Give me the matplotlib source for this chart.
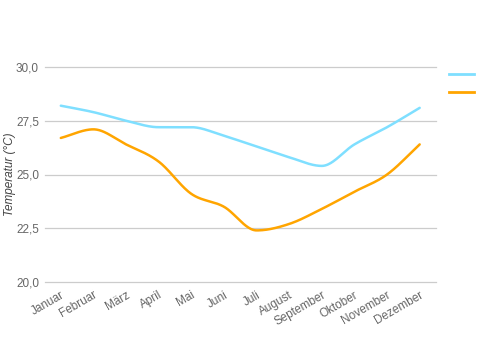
import numpy as np
import matplotlib
matplotlib.use("Agg")
import matplotlib.pyplot as plt
from matplotlib.lines import Line2D

plt.rcParams['font.family'] = ['Liberation Sans', 'DejaVu Sans']

months = ["Januar", "Februar", "März", "April", "Mai", "Juni", "Juli",
          "August", "September", "Oktober", "November", "Dezember"]
series_a = [28.2, 27.9, 27.5, 27.2, 27.2, 26.8, 26.3, 25.8, 25.4, 26.4, 27.2, 28.1]
series_b = [26.7, 27.1, 26.4, 25.6, 24.1, 23.5, 22.4, 22.7, 23.4, 24.2, 25.0, 26.4]
yticks = [20.0, 22.5, 25.0, 27.5, 30.0]
ytick_labels = ["20,0", "22,5", "25,0", "27,5", "30,0"]
color_a = "#7fdfff"
color_b = "#ffa500"


def monotone(x, y, n=40):
    x = np.asarray(x, float); y = np.asarray(y, float)
    h = np.diff(x); d = np.diff(y) / h
    m = np.zeros_like(y)
    m[0] = d[0]; m[-1] = d[-1]
    for i in range(1, len(y) - 1):
        if d[i - 1] * d[i] <= 0:
            m[i] = 0
        else:
            m[i] = (d[i - 1] + d[i]) / 2
    for i in range(len(d)):
        if d[i] == 0:
            m[i] = m[i + 1] = 0
        else:
            a = m[i] / d[i]; b = m[i + 1] / d[i]
            s = a * a + b * b
            if s > 9:
                t = 3 / np.sqrt(s)
                m[i] = t * a * d[i]; m[i + 1] = t * b * d[i]
    xs, ys = [], []
    for i in range(len(d)):
        t = np.linspace(0, 1, n, endpoint=(i == len(d) - 1))
        h00 = 2 * t**3 - 3 * t**2 + 1
        h10 = t**3 - 2 * t**2 + t
        h01 = -2 * t**3 + 3 * t**2
        h11 = t**3 - t**2
        xs.append(x[i] + t * h[i])
        ys.append(h00 * y[i] + h10 * h[i] * m[i] + h01 * y[i + 1] + h11 * h[i] * m[i + 1])
    return np.concatenate(xs), np.concatenate(ys)


fig = plt.figure(figsize=(4.81, 3.5), dpi=100)
ax = fig.add_axes([44.5 / 481, 1 - 282 / 350, (436 - 44.5) / 481, (282 - 67) / 350])

x = np.arange(len(months))
xa, ya = monotone(x, series_a)
xb, yb = monotone(x, series_b)
ax.plot(xa, ya, color=color_a, lw=1.8, solid_capstyle="round")
ax.plot(xb, yb, color=color_b, lw=1.8, solid_capstyle="round")

ax.set_xlim(-0.5, len(months) - 0.5)
ax.set_ylim(20, 30)
ax.set_yticks(yticks)
ax.set_yticklabels(ytick_labels)
ax.set_xticks(x)
ax.set_xticklabels(months, rotation=30, ha="right", rotation_mode="anchor")
ax.tick_params(axis="both", length=0, colors="#666666", labelsize=8.5)
ax.tick_params(axis="x", pad=5)
ax.tick_params(axis="y", pad=4)
for yv in yticks:
    ax.axhline(yv, color="#cccccc", lw=0.9, zorder=0, clip_on=False)
for s in ax.spines.values():
    s.set_visible(False)
fig.text(10 / 481, 1 - 174 / 350, "Temperatur (°C)", rotation=90, style="italic",
         color="#444444", fontsize=8.5, ha="center", va="center")

handles = [Line2D([], [], color=color_a, lw=2), Line2D([], [], color=color_b, lw=2)]
fig.legend(handles, ["", ""], loc="upper left", bbox_to_anchor=(443 / 481, 1 - 63 / 350),
           frameon=False, handlelength=2.0, labelspacing=0.45, fontsize=9,
           handletextpad=0, borderpad=0)

fig.savefig("out.png", dpi=100)
